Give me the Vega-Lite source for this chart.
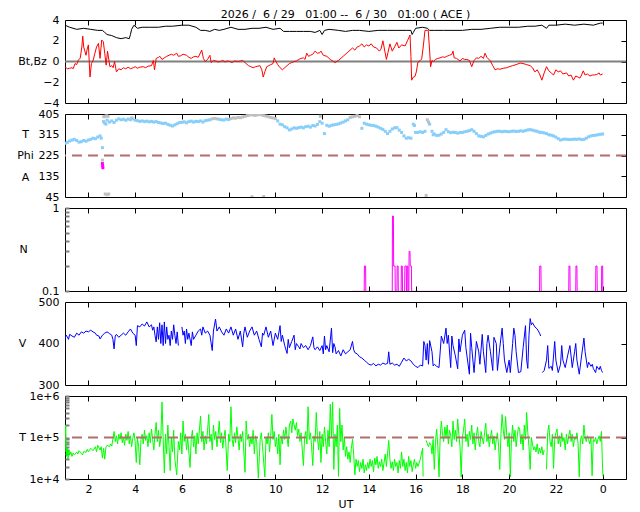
{
"$schema": "https://vega.github.io/schema/vega-lite/v6.json",
"background": "white",
"padding": {"left": 16, "top": 8, "right": 4, "bottom": 2},
"spacing": 11,
"bounds": "flush",
"config": {
  "font": "DejaVu Sans",
  "view": {"stroke": "#000", "strokeWidth": 1},
  "axis": {"labelFont": "DejaVu Sans", "labelFontSize": 11, "labelColor": "#000", "titleFont": "DejaVu Sans", "titleFontSize": 11, "titleFontWeight": "normal", "titleColor": "#000", "domain": false, "grid": false, "tickColor": "#000", "tickSize": -5, "labelPadding": 11, "labelFlush": false, "labelOverlap": false}
},
"datasets": {
  "bt": [{"h":1.0,"v":3.5},{"h":1.2,"v":3.3},{"h":1.5,"v":3.1},{"h":1.8,"v":3.2},{"h":2.1,"v":3.1},{"h":2.4,"v":3.0},{"h":2.6,"v":3.0},{"h":2.7,"v":2.8},{"h":2.8,"v":2.6},{"h":3.0,"v":2.5},{"h":3.2,"v":2.3},{"h":3.4,"v":2.2},{"h":3.6,"v":2.3},{"h":3.75,"v":2.2},{"h":3.8,"v":2.6},{"h":3.85,"v":3.1},{"h":3.95,"v":3.5},{"h":4.1,"v":3.2},{"h":4.3,"v":3.3},{"h":4.6,"v":3.3},{"h":5.0,"v":3.3},{"h":5.3,"v":3.4},{"h":5.6,"v":3.4},{"h":6.0,"v":3.5},{"h":6.3,"v":3.5},{"h":6.6,"v":3.3},{"h":6.8,"v":3.0},{"h":7.0,"v":3.0},{"h":7.2,"v":2.9},{"h":7.4,"v":3.1},{"h":7.6,"v":3.0},{"h":7.8,"v":3.1},{"h":8.1,"v":3.3},{"h":8.4,"v":3.1},{"h":8.7,"v":3.1},{"h":9.0,"v":3.2},{"h":9.3,"v":3.2},{"h":9.6,"v":3.3},{"h":9.9,"v":3.1},{"h":10.2,"v":3.2},{"h":10.35,"v":2.9},{"h":10.6,"v":2.9},{"h":10.9,"v":2.9},{"h":11.2,"v":2.9},{"h":11.5,"v":2.9},{"h":11.7,"v":2.8},{"h":11.9,"v":3.0},{"h":12.0,"v":2.6},{"h":12.1,"v":3.0},{"h":12.3,"v":3.1},{"h":12.7,"v":3.0},{"h":13.0,"v":2.9},{"h":13.3,"v":3.0},{"h":13.6,"v":3.0},{"h":14.0,"v":2.9},{"h":14.4,"v":3.0},{"h":14.8,"v":3.0},{"h":15.2,"v":3.0},{"h":15.6,"v":3.0},{"h":15.8,"v":3.0},{"h":15.85,"v":2.6},{"h":15.9,"v":2.8},{"h":16.0,"v":3.2},{"h":16.3,"v":3.3},{"h":16.5,"v":3.2},{"h":16.6,"v":3.0},{"h":16.8,"v":3.0},{"h":17.2,"v":3.0},{"h":17.6,"v":3.0},{"h":18.0,"v":3.0},{"h":18.4,"v":3.1},{"h":18.8,"v":3.1},{"h":19.2,"v":3.2},{"h":19.6,"v":3.3},{"h":20.0,"v":3.3},{"h":20.4,"v":3.3},{"h":20.8,"v":3.4},{"h":21.1,"v":3.4},{"h":21.4,"v":3.5},{"h":21.6,"v":3.2},{"h":21.7,"v":3.5},{"h":22.0,"v":3.5},{"h":22.4,"v":3.6},{"h":22.8,"v":3.5},{"h":23.2,"v":3.6},{"h":23.6,"v":3.5},{"h":23.9,"v":3.7},{"h":24.0,"v":3.7}],
  "bz": [{"h":1.0,"v":-0.5},{"h":1.05,"v":-0.6},{"h":1.1,"v":-0.7},{"h":1.2,"v":-0.65},{"h":1.3,"v":-0.6},{"h":1.35,"v":-0.7},{"h":1.43,"v":-0.2},{"h":1.5,"v":-0.3},{"h":1.57,"v":0.15},{"h":1.65,"v":0.3},{"h":1.72,"v":1.4},{"h":1.76,"v":2.45},{"h":1.8,"v":1.4},{"h":1.85,"v":1.0},{"h":1.9,"v":0.6},{"h":1.95,"v":1.2},{"h":2.0,"v":1.6},{"h":2.07,"v":-1.5},{"h":2.13,"v":-0.2},{"h":2.21,"v":0.15},{"h":2.28,"v":0.8},{"h":2.35,"v":1.4},{"h":2.43,"v":1.75},{"h":2.5,"v":0.3},{"h":2.57,"v":2.07},{"h":2.64,"v":1.9},{"h":2.7,"v":0.8},{"h":2.76,"v":-0.35},{"h":2.82,"v":1.0},{"h":2.92,"v":-0.5},{"h":3.0,"v":-0.4},{"h":3.06,"v":-0.6},{"h":3.12,"v":0.0},{"h":3.2,"v":-1.0},{"h":3.3,"v":-0.7},{"h":3.4,"v":-0.8},{"h":3.5,"v":-0.6},{"h":3.6,"v":-0.7},{"h":3.7,"v":-0.55},{"h":3.8,"v":-0.7},{"h":3.92,"v":-0.6},{"h":4.0,"v":-0.5},{"h":4.1,"v":-0.65},{"h":4.2,"v":-0.55},{"h":4.35,"v":-0.5},{"h":4.45,"v":-0.6},{"h":4.55,"v":-0.45},{"h":4.7,"v":-0.4},{"h":4.78,"v":0.1},{"h":4.83,"v":-0.8},{"h":4.9,"v":0.3},{"h":5.0,"v":0.4},{"h":5.06,"v":0.5},{"h":5.15,"v":0.2},{"h":5.25,"v":0.35},{"h":5.35,"v":0.5},{"h":5.45,"v":0.6},{"h":5.55,"v":0.7},{"h":5.65,"v":0.6},{"h":5.78,"v":0.8},{"h":5.85,"v":0.5},{"h":5.95,"v":0.55},{"h":6.05,"v":0.7},{"h":6.2,"v":0.6},{"h":6.3,"v":0.4},{"h":6.4,"v":0.3},{"h":6.5,"v":0.45},{"h":6.6,"v":0.5},{"h":6.7,"v":0.4},{"h":6.85,"v":1.1},{"h":6.92,"v":0.3},{"h":7.0,"v":0.0},{"h":7.1,"v":0.2},{"h":7.2,"v":0.6},{"h":7.25,"v":-0.1},{"h":7.35,"v":0.1},{"h":7.45,"v":0.05},{"h":7.55,"v":-0.05},{"h":7.66,"v":0.0},{"h":7.75,"v":0.1},{"h":7.85,"v":-0.05},{"h":7.95,"v":0.05},{"h":8.05,"v":0.0},{"h":8.15,"v":-0.1},{"h":8.25,"v":0.05},{"h":8.4,"v":0.0},{"h":8.5,"v":0.05},{"h":8.6,"v":0.1},{"h":8.7,"v":-0.1},{"h":8.85,"v":-0.4},{"h":8.95,"v":-0.5},{"h":9.05,"v":-0.6},{"h":9.15,"v":-0.5},{"h":9.25,"v":-0.45},{"h":9.34,"v":-0.4},{"h":9.42,"v":-0.8},{"h":9.48,"v":-1.5},{"h":9.55,"v":-1.0},{"h":9.63,"v":-0.5},{"h":9.72,"v":-0.4},{"h":9.8,"v":-0.3},{"h":9.9,"v":-0.2},{"h":9.95,"v":0.35},{"h":10.0,"v":0.1},{"h":10.1,"v":-0.3},{"h":10.2,"v":-0.6},{"h":10.3,"v":-0.8},{"h":10.4,"v":-0.6},{"h":10.5,"v":-0.4},{"h":10.6,"v":-0.2},{"h":10.7,"v":-0.1},{"h":10.8,"v":0.0},{"h":10.9,"v":0.05},{"h":11.0,"v":0.2},{"h":11.1,"v":0.3},{"h":11.2,"v":0.35},{"h":11.27,"v":0.2},{"h":11.34,"v":0.8},{"h":11.42,"v":0.5},{"h":11.5,"v":0.6},{"h":11.6,"v":0.7},{"h":11.7,"v":1.0},{"h":11.8,"v":0.8},{"h":11.9,"v":0.85},{"h":11.95,"v":1.0},{"h":12.05,"v":0.6},{"h":12.2,"v":0.5},{"h":12.35,"v":0.2},{"h":12.48,"v":0.0},{"h":12.55,"v":-0.1},{"h":12.7,"v":0.1},{"h":12.9,"v":0.5},{"h":13.1,"v":0.9},{"h":13.3,"v":1.3},{"h":13.4,"v":1.1},{"h":13.5,"v":1.4},{"h":13.6,"v":1.5},{"h":13.7,"v":1.7},{"h":13.8,"v":1.4},{"h":13.9,"v":1.6},{"h":14.0,"v":1.5},{"h":14.1,"v":1.7},{"h":14.2,"v":1.4},{"h":14.33,"v":1.3},{"h":14.45,"v":1.0},{"h":14.52,"v":1.2},{"h":14.6,"v":2.0},{"h":14.65,"v":1.4},{"h":14.75,"v":0.2},{"h":14.82,"v":0.9},{"h":14.9,"v":1.7},{"h":15.0,"v":1.0},{"h":15.1,"v":1.4},{"h":15.2,"v":1.85},{"h":15.28,"v":1.3},{"h":15.4,"v":1.6},{"h":15.55,"v":1.5},{"h":15.65,"v":2.0},{"h":15.76,"v":2.55},{"h":15.8,"v":0.5},{"h":15.83,"v":-1.8},{"h":15.9,"v":-1.5},{"h":15.97,"v":-1.45},{"h":16.03,"v":-1.0},{"h":16.1,"v":-0.05},{"h":16.2,"v":0.1},{"h":16.26,"v":0.25},{"h":16.33,"v":1.5},{"h":16.4,"v":3.0},{"h":16.5,"v":3.0},{"h":16.54,"v":3.0},{"h":16.6,"v":1.0},{"h":16.64,"v":-0.5},{"h":16.7,"v":0.1},{"h":16.76,"v":0.0},{"h":16.85,"v":0.2},{"h":16.95,"v":0.3},{"h":17.04,"v":0.35},{"h":17.15,"v":0.45},{"h":17.25,"v":0.4},{"h":17.33,"v":0.5},{"h":17.45,"v":0.6},{"h":17.55,"v":0.7},{"h":17.6,"v":1.0},{"h":17.65,"v":0.35},{"h":17.75,"v":0.3},{"h":17.9,"v":0.05},{"h":18.0,"v":0.3},{"h":18.1,"v":0.2},{"h":18.19,"v":0.2},{"h":18.3,"v":0.1},{"h":18.4,"v":-0.5},{"h":18.5,"v":0.1},{"h":18.6,"v":0.35},{"h":18.7,"v":0.3},{"h":18.8,"v":0.5},{"h":18.9,"v":0.3},{"h":18.97,"v":0.8},{"h":19.05,"v":0.4},{"h":19.2,"v":0.05},{"h":19.3,"v":-0.4},{"h":19.4,"v":-0.8},{"h":19.5,"v":-0.7},{"h":19.6,"v":-0.75},{"h":19.75,"v":-0.65},{"h":19.9,"v":-0.6},{"h":20.0,"v":-0.5},{"h":20.15,"v":-0.4},{"h":20.3,"v":-0.3},{"h":20.47,"v":-0.15},{"h":20.6,"v":-0.2},{"h":20.75,"v":-0.3},{"h":20.9,"v":-0.4},{"h":21.0,"v":-0.6},{"h":21.1,"v":-1.0},{"h":21.2,"v":-0.8},{"h":21.3,"v":-1.2},{"h":21.4,"v":-1.8},{"h":21.5,"v":-1.1},{"h":21.6,"v":-0.5},{"h":21.7,"v":-0.9},{"h":21.8,"v":-1.1},{"h":21.9,"v":-1.3},{"h":22.0,"v":-0.8},{"h":22.1,"v":-1.0},{"h":22.2,"v":-0.9},{"h":22.3,"v":-1.2},{"h":22.46,"v":-1.1},{"h":22.55,"v":-1.4},{"h":22.65,"v":-1.3},{"h":22.75,"v":-1.8},{"h":22.85,"v":-1.4},{"h":22.95,"v":-1.5},{"h":23.03,"v":-1.6},{"h":23.1,"v":-1.3},{"h":23.17,"v":-0.9},{"h":23.25,"v":-1.3},{"h":23.35,"v":-1.2},{"h":23.46,"v":-1.4},{"h":23.55,"v":-1.3},{"h":23.65,"v":-1.3},{"h":23.75,"v":-1.25},{"h":23.85,"v":-1.1},{"h":23.9,"v":-1.3},{"h":24.0,"v":-1.2}],
  "phi": [{"h":1.0,"v":278,"c":"b"},{"h":1.1,"v":282,"c":"b"},{"h":1.2,"v":288,"c":"b"},{"h":1.3,"v":292,"c":"b"},{"h":1.4,"v":295,"c":"b"},{"h":1.5,"v":290,"c":"b"},{"h":1.6,"v":283,"c":"b"},{"h":1.7,"v":285,"c":"b"},{"h":1.8,"v":290,"c":"b"},{"h":1.9,"v":287,"c":"b"},{"h":2.0,"v":292,"c":"b"},{"h":2.1,"v":295,"c":"b"},{"h":2.2,"v":300,"c":"b"},{"h":2.3,"v":298,"c":"b"},{"h":2.4,"v":305,"c":"b"},{"h":2.5,"v":310,"c":"b"},{"h":2.55,"v":300,"c":"b"},{"h":2.6,"v":259,"c":"b"},{"h":2.65,"v":372,"c":"b"},{"h":2.7,"v":365,"c":"b"},{"h":2.75,"v":361,"c":"b"},{"h":2.8,"v":378,"c":"b"},{"h":2.9,"v":370,"c":"b"},{"h":3.0,"v":375,"c":"b"},{"h":3.1,"v":368,"c":"b"},{"h":3.2,"v":378,"c":"b"},{"h":3.3,"v":384,"c":"b"},{"h":3.4,"v":380,"c":"b"},{"h":3.5,"v":382,"c":"b"},{"h":3.6,"v":378,"c":"b"},{"h":3.7,"v":383,"c":"b"},{"h":3.8,"v":380,"c":"b"},{"h":3.9,"v":384,"c":"b"},{"h":4.0,"v":378,"c":"b"},{"h":4.1,"v":376,"c":"b"},{"h":4.2,"v":373,"c":"b"},{"h":4.3,"v":375,"c":"b"},{"h":4.4,"v":372,"c":"b"},{"h":4.5,"v":374,"c":"b"},{"h":4.6,"v":371,"c":"b"},{"h":4.7,"v":373,"c":"b"},{"h":4.8,"v":370,"c":"b"},{"h":4.9,"v":372,"c":"b"},{"h":5.0,"v":368,"c":"b"},{"h":5.1,"v":366,"c":"b"},{"h":5.2,"v":364,"c":"b"},{"h":5.3,"v":365,"c":"b"},{"h":5.4,"v":360,"c":"b"},{"h":5.5,"v":356,"c":"b"},{"h":5.6,"v":353,"c":"b"},{"h":5.7,"v":358,"c":"b"},{"h":5.8,"v":363,"c":"b"},{"h":5.9,"v":368,"c":"b"},{"h":6.0,"v":369,"c":"b"},{"h":6.1,"v":371,"c":"b"},{"h":6.2,"v":367,"c":"b"},{"h":6.3,"v":372,"c":"b"},{"h":6.4,"v":374,"c":"b"},{"h":6.5,"v":370,"c":"b"},{"h":6.6,"v":373,"c":"b"},{"h":6.7,"v":372,"c":"b"},{"h":6.8,"v":375,"c":"b"},{"h":6.9,"v":370,"c":"b"},{"h":7.0,"v":376,"c":"b"},{"h":7.1,"v":378,"c":"b"},{"h":7.2,"v":380,"c":"b"},{"h":7.3,"v":384,"c":"g"},{"h":7.4,"v":386,"c":"g"},{"h":7.5,"v":384,"c":"g"},{"h":7.6,"v":382,"c":"b"},{"h":7.7,"v":380,"c":"b"},{"h":7.8,"v":379,"c":"b"},{"h":7.9,"v":383,"c":"b"},{"h":8.0,"v":381,"c":"b"},{"h":8.1,"v":385,"c":"g"},{"h":8.2,"v":388,"c":"g"},{"h":8.3,"v":387,"c":"g"},{"h":8.4,"v":390,"c":"g"},{"h":8.5,"v":389,"c":"g"},{"h":8.6,"v":392,"c":"g"},{"h":8.7,"v":395,"c":"g"},{"h":8.8,"v":398,"c":"g"},{"h":8.9,"v":400,"c":"g"},{"h":9.0,"v":402,"c":"g"},{"h":9.1,"v":399,"c":"g"},{"h":9.2,"v":400,"c":"g"},{"h":9.3,"v":403,"c":"g"},{"h":9.4,"v":401,"c":"g"},{"h":9.5,"v":398,"c":"g"},{"h":9.6,"v":396,"c":"g"},{"h":9.7,"v":393,"c":"g"},{"h":9.8,"v":390,"c":"g"},{"h":9.9,"v":388,"c":"g"},{"h":10.0,"v":385,"c":"g"},{"h":10.1,"v":375,"c":"b"},{"h":10.2,"v":361,"c":"b"},{"h":10.3,"v":358,"c":"b"},{"h":10.4,"v":350,"c":"b"},{"h":10.5,"v":345,"c":"b"},{"h":10.6,"v":336,"c":"b"},{"h":10.7,"v":340,"c":"b"},{"h":10.8,"v":345,"c":"b"},{"h":10.9,"v":343,"c":"b"},{"h":11.0,"v":346,"c":"b"},{"h":11.1,"v":348,"c":"b"},{"h":11.2,"v":345,"c":"b"},{"h":11.3,"v":350,"c":"b"},{"h":11.4,"v":352,"c":"b"},{"h":11.5,"v":348,"c":"b"},{"h":11.6,"v":355,"c":"b"},{"h":11.7,"v":353,"c":"b"},{"h":11.8,"v":360,"c":"b"},{"h":11.9,"v":372,"c":"b"},{"h":11.92,"v":395,"c":"g"},{"h":12.0,"v":365,"c":"b"},{"h":12.1,"v":320,"c":"b"},{"h":12.2,"v":356,"c":"b"},{"h":12.3,"v":352,"c":"b"},{"h":12.4,"v":356,"c":"b"},{"h":12.5,"v":358,"c":"b"},{"h":12.6,"v":360,"c":"b"},{"h":12.7,"v":362,"c":"b"},{"h":12.8,"v":366,"c":"b"},{"h":12.9,"v":370,"c":"b"},{"h":13.0,"v":375,"c":"b"},{"h":13.1,"v":380,"c":"b"},{"h":13.2,"v":390,"c":"g"},{"h":13.3,"v":393,"c":"g"},{"h":13.4,"v":395,"c":"g"},{"h":13.5,"v":398,"c":"g"},{"h":13.6,"v":393,"c":"g"},{"h":13.7,"v":343,"c":"b"},{"h":13.8,"v":365,"c":"b"},{"h":13.9,"v":361,"c":"b"},{"h":14.0,"v":358,"c":"b"},{"h":14.1,"v":356,"c":"b"},{"h":14.2,"v":355,"c":"b"},{"h":14.3,"v":352,"c":"b"},{"h":14.4,"v":348,"c":"b"},{"h":14.5,"v":343,"c":"b"},{"h":14.6,"v":338,"c":"b"},{"h":14.7,"v":330,"c":"b"},{"h":14.8,"v":320,"c":"b"},{"h":14.9,"v":330,"c":"b"},{"h":15.0,"v":340,"c":"b"},{"h":15.1,"v":345,"c":"b"},{"h":15.2,"v":346,"c":"b"},{"h":15.3,"v":335,"c":"b"},{"h":15.4,"v":325,"c":"b"},{"h":15.5,"v":310,"c":"b"},{"h":15.6,"v":300,"c":"b"},{"h":15.7,"v":302,"c":"b"},{"h":15.8,"v":300,"c":"b"},{"h":15.9,"v":361,"c":"b"},{"h":15.95,"v":355,"c":"b"},{"h":16.0,"v":325,"c":"b"},{"h":16.1,"v":325,"c":"b"},{"h":16.2,"v":328,"c":"b"},{"h":16.3,"v":325,"c":"b"},{"h":16.4,"v":330,"c":"b"},{"h":16.5,"v":380,"c":"g"},{"h":16.55,"v":370,"c":"g"},{"h":16.6,"v":361,"c":"b"},{"h":16.7,"v":330,"c":"b"},{"h":16.75,"v":315,"c":"b"},{"h":16.8,"v":318,"c":"b"},{"h":16.9,"v":312,"c":"b"},{"h":17.0,"v":313,"c":"b"},{"h":17.1,"v":318,"c":"b"},{"h":17.2,"v":325,"c":"b"},{"h":17.3,"v":337,"c":"b"},{"h":17.4,"v":328,"c":"b"},{"h":17.5,"v":324,"c":"b"},{"h":17.6,"v":326,"c":"b"},{"h":17.7,"v":325,"c":"b"},{"h":17.8,"v":322,"c":"b"},{"h":17.9,"v":325,"c":"b"},{"h":18.0,"v":325,"c":"b"},{"h":18.1,"v":328,"c":"b"},{"h":18.2,"v":330,"c":"b"},{"h":18.3,"v":333,"c":"b"},{"h":18.4,"v":337,"c":"b"},{"h":18.5,"v":330,"c":"b"},{"h":18.6,"v":320,"c":"b"},{"h":18.7,"v":310,"c":"b"},{"h":18.8,"v":308,"c":"b"},{"h":18.9,"v":306,"c":"b"},{"h":19.0,"v":312,"c":"b"},{"h":19.1,"v":318,"c":"b"},{"h":19.2,"v":322,"c":"b"},{"h":19.3,"v":326,"c":"b"},{"h":19.4,"v":328,"c":"b"},{"h":19.5,"v":330,"c":"b"},{"h":19.6,"v":330,"c":"b"},{"h":19.7,"v":328,"c":"b"},{"h":19.8,"v":330,"c":"b"},{"h":19.9,"v":329,"c":"b"},{"h":20.0,"v":328,"c":"b"},{"h":20.1,"v":330,"c":"b"},{"h":20.2,"v":331,"c":"b"},{"h":20.3,"v":329,"c":"b"},{"h":20.4,"v":330,"c":"b"},{"h":20.5,"v":332,"c":"b"},{"h":20.6,"v":330,"c":"b"},{"h":20.7,"v":333,"c":"b"},{"h":20.8,"v":336,"c":"b"},{"h":20.9,"v":337,"c":"b"},{"h":21.0,"v":335,"c":"b"},{"h":21.1,"v":332,"c":"b"},{"h":21.2,"v":330,"c":"b"},{"h":21.3,"v":326,"c":"b"},{"h":21.4,"v":325,"c":"b"},{"h":21.5,"v":323,"c":"b"},{"h":21.6,"v":320,"c":"b"},{"h":21.7,"v":315,"c":"b"},{"h":21.8,"v":313,"c":"b"},{"h":21.9,"v":310,"c":"b"},{"h":22.0,"v":305,"c":"b"},{"h":22.1,"v":298,"c":"b"},{"h":22.2,"v":292,"c":"b"},{"h":22.3,"v":295,"c":"b"},{"h":22.4,"v":296,"c":"b"},{"h":22.5,"v":295,"c":"b"},{"h":22.6,"v":294,"c":"b"},{"h":22.7,"v":295,"c":"b"},{"h":22.8,"v":296,"c":"b"},{"h":22.9,"v":295,"c":"b"},{"h":23.0,"v":297,"c":"b"},{"h":23.1,"v":294,"c":"b"},{"h":23.2,"v":295,"c":"b"},{"h":23.3,"v":300,"c":"b"},{"h":23.4,"v":306,"c":"b"},{"h":23.5,"v":310,"c":"b"},{"h":23.6,"v":312,"c":"b"},{"h":23.7,"v":313,"c":"b"},{"h":23.8,"v":315,"c":"b"},{"h":23.9,"v":317,"c":"b"},{"h":24.0,"v":318,"c":"b"},{"h":2.66,"v":393,"c":"g"},{"h":2.72,"v":395,"c":"g"},{"h":2.78,"v":397,"c":"g"},{"h":2.84,"v":395,"c":"g"},{"h":3.85,"v":388,"c":"g"},{"h":2.72,"v":58,"c":"g"},{"h":2.8,"v":55,"c":"g"},{"h":2.87,"v":58,"c":"g"},{"h":9.0,"v":46,"c":"g"},{"h":9.5,"v":47,"c":"g"},{"h":16.45,"v":52,"c":"g"},{"h":2.6,"v":205,"c":"g"},{"h":2.6,"v":190,"c":"m"},{"h":2.61,"v":180,"c":"m"},{"h":2.62,"v":172,"c":"m"}],
  "n": [{"h":13.3,"v":0.099},{"h":13.8,"v":0.099},{"h":13.81,"v":0.2},{"h":13.86,"v":0.2},{"h":13.87,"v":0.099},{"h":15.0,"v":0.099},{"h":15.01,"v":0.8},{"h":15.05,"v":0.8},{"h":15.06,"v":0.2},{"h":15.12,"v":0.2},{"h":15.13,"v":0.099},{"h":15.2,"v":0.099},{"h":15.21,"v":0.2},{"h":15.25,"v":0.2},{"h":15.26,"v":0.099},{"h":15.38,"v":0.099},{"h":15.39,"v":0.2},{"h":15.43,"v":0.2},{"h":15.44,"v":0.099},{"h":15.53,"v":0.099},{"h":15.54,"v":0.2},{"h":15.6,"v":0.2},{"h":15.61,"v":0.099},{"h":15.63,"v":0.099},{"h":15.64,"v":0.2},{"h":15.67,"v":0.2},{"h":15.68,"v":0.099},{"h":15.71,"v":0.099},{"h":15.72,"v":0.3},{"h":15.76,"v":0.3},{"h":15.77,"v":0.2},{"h":15.82,"v":0.2},{"h":15.83,"v":0.099},{"h":21.3,"v":0.099},{"h":21.31,"v":0.2},{"h":21.36,"v":0.2},{"h":21.37,"v":0.099},{"h":22.55,"v":0.099},{"h":22.56,"v":0.2},{"h":22.6,"v":0.2},{"h":22.61,"v":0.099},{"h":22.85,"v":0.099},{"h":22.86,"v":0.2},{"h":22.9,"v":0.2},{"h":22.91,"v":0.099},{"h":23.7,"v":0.099},{"h":23.71,"v":0.2},{"h":23.76,"v":0.2},{"h":23.77,"v":0.099},{"h":23.95,"v":0.099},{"h":23.96,"v":0.2},{"h":24.0,"v":0.2},{"h":24.01,"v":0.099}],
  "vel": [{"h":1.0,"v":412,"s":1},{"h":1.05,"v":420,"s":1},{"h":1.1,"v":416,"s":1},{"h":1.15,"v":410,"s":1},{"h":1.2,"v":422,"s":1},{"h":1.3,"v":418,"s":1},{"h":1.4,"v":415,"s":1},{"h":1.5,"v":425,"s":1},{"h":1.6,"v":420,"s":1},{"h":1.7,"v":428,"s":1},{"h":1.8,"v":425,"s":1},{"h":1.9,"v":430,"s":1},{"h":2.0,"v":428,"s":1},{"h":2.1,"v":432,"s":1},{"h":2.2,"v":428,"s":1},{"h":2.3,"v":425,"s":1},{"h":2.35,"v":420,"s":1},{"h":2.45,"v":418,"s":1},{"h":2.5,"v":411,"s":1},{"h":2.6,"v":420,"s":1},{"h":2.7,"v":425,"s":1},{"h":2.8,"v":428,"s":1},{"h":2.9,"v":424,"s":1},{"h":3.0,"v":420,"s":1},{"h":3.05,"v":410,"s":1},{"h":3.1,"v":387,"s":1},{"h":3.15,"v":418,"s":1},{"h":3.2,"v":422,"s":1},{"h":3.3,"v":415,"s":1},{"h":3.4,"v":420,"s":1},{"h":3.5,"v":425,"s":1},{"h":3.6,"v":420,"s":1},{"h":3.7,"v":428,"s":1},{"h":3.8,"v":435,"s":1},{"h":3.9,"v":425,"s":1},{"h":4.0,"v":420,"s":1},{"h":4.05,"v":395,"s":1},{"h":4.1,"v":443,"s":1},{"h":4.2,"v":440,"s":1},{"h":4.3,"v":447,"s":1},{"h":4.4,"v":442,"s":1},{"h":4.5,"v":452,"s":1},{"h":4.6,"v":440,"s":1},{"h":4.7,"v":445,"s":1},{"h":4.75,"v":432,"s":1},{"h":4.8,"v":440,"s":1},{"h":4.85,"v":420,"s":1},{"h":4.9,"v":404,"s":1},{"h":4.95,"v":440,"s":1},{"h":5.0,"v":410,"s":1},{"h":5.05,"v":450,"s":1},{"h":5.1,"v":400,"s":1},{"h":5.15,"v":445,"s":1},{"h":5.2,"v":395,"s":1},{"h":5.25,"v":452,"s":1},{"h":5.3,"v":400,"s":1},{"h":5.35,"v":440,"s":1},{"h":5.4,"v":410,"s":1},{"h":5.45,"v":420,"s":1},{"h":5.5,"v":395,"s":1},{"h":5.55,"v":430,"s":1},{"h":5.6,"v":410,"s":1},{"h":5.65,"v":445,"s":1},{"h":5.7,"v":420,"s":1},{"h":5.75,"v":400,"s":1},{"h":5.8,"v":428,"s":1},{"h":5.85,"v":395,"s":1},{"h":6.0,"v":440,"s":2},{"h":6.05,"v":420,"s":2},{"h":6.1,"v":430,"s":2},{"h":6.15,"v":400,"s":2},{"h":6.2,"v":435,"s":2},{"h":6.25,"v":410,"s":2},{"h":6.3,"v":425,"s":2},{"h":6.4,"v":395,"s":2},{"h":6.45,"v":428,"s":2},{"h":6.5,"v":410,"s":2},{"h":6.6,"v":420,"s":2},{"h":6.7,"v":430,"s":2},{"h":6.8,"v":435,"s":2},{"h":6.85,"v":420,"s":2},{"h":6.9,"v":440,"s":2},{"h":7.0,"v":425,"s":2},{"h":7.1,"v":430,"s":2},{"h":7.2,"v":420,"s":2},{"h":7.3,"v":383,"s":2},{"h":7.35,"v":430,"s":2},{"h":7.44,"v":459,"s":2},{"h":7.5,"v":430,"s":2},{"h":7.6,"v":440,"s":2},{"h":7.7,"v":428,"s":2},{"h":7.8,"v":420,"s":2},{"h":7.9,"v":435,"s":2},{"h":8.0,"v":425,"s":2},{"h":8.1,"v":440,"s":2},{"h":8.2,"v":420,"s":2},{"h":8.3,"v":435,"s":2},{"h":8.4,"v":410,"s":2},{"h":8.5,"v":430,"s":2},{"h":8.6,"v":392,"s":2},{"h":8.65,"v":425,"s":2},{"h":8.7,"v":440,"s":2},{"h":8.8,"v":415,"s":2},{"h":8.9,"v":430,"s":2},{"h":9.0,"v":440,"s":2},{"h":9.1,"v":420,"s":2},{"h":9.2,"v":430,"s":2},{"h":9.3,"v":410,"s":2},{"h":9.4,"v":392,"s":2},{"h":9.45,"v":425,"s":2},{"h":9.5,"v":420,"s":2},{"h":9.6,"v":440,"s":2},{"h":9.7,"v":415,"s":2},{"h":9.8,"v":430,"s":2},{"h":9.9,"v":395,"s":2},{"h":10.0,"v":425,"s":2},{"h":10.1,"v":410,"s":2},{"h":10.2,"v":443,"s":2},{"h":10.25,"v":405,"s":2},{"h":10.3,"v":420,"s":2},{"h":10.4,"v":395,"s":2},{"h":10.5,"v":376,"s":2},{"h":10.55,"v":410,"s":2},{"h":10.6,"v":390,"s":2},{"h":10.7,"v":405,"s":2},{"h":10.8,"v":420,"s":2},{"h":10.85,"v":385,"s":2},{"h":10.9,"v":400,"s":2},{"h":11.0,"v":392,"s":2},{"h":11.05,"v":387,"s":2},{"h":11.1,"v":400,"s":2},{"h":11.2,"v":390,"s":2},{"h":11.3,"v":395,"s":2},{"h":11.4,"v":385,"s":2},{"h":11.5,"v":395,"s":2},{"h":11.6,"v":416,"s":2},{"h":11.65,"v":390,"s":2},{"h":11.7,"v":385,"s":2},{"h":11.8,"v":392,"s":2},{"h":11.9,"v":383,"s":2},{"h":12.0,"v":395,"s":2},{"h":12.05,"v":375,"s":2},{"h":12.1,"v":418,"s":2},{"h":12.15,"v":385,"s":2},{"h":12.2,"v":395,"s":2},{"h":12.3,"v":380,"s":2},{"h":12.4,"v":437,"s":2},{"h":12.45,"v":378,"s":2},{"h":12.5,"v":400,"s":2},{"h":12.55,"v":392,"s":2},{"h":12.6,"v":375,"s":2},{"h":12.7,"v":383,"s":2},{"h":12.8,"v":370,"s":2},{"h":12.9,"v":385,"s":2},{"h":13.0,"v":375,"s":2},{"h":13.1,"v":380,"s":2},{"h":13.2,"v":385,"s":2},{"h":13.3,"v":405,"s":2},{"h":13.35,"v":385,"s":2},{"h":13.4,"v":378,"s":2},{"h":13.5,"v":375,"s":2},{"h":13.6,"v":368,"s":2},{"h":13.7,"v":365,"s":2},{"h":13.8,"v":360,"s":2},{"h":13.9,"v":355,"s":2},{"h":14.0,"v":350,"s":2},{"h":14.1,"v":348,"s":2},{"h":14.2,"v":352,"s":2},{"h":14.3,"v":346,"s":2},{"h":14.4,"v":350,"s":2},{"h":14.5,"v":348,"s":2},{"h":14.6,"v":353,"s":2},{"h":14.7,"v":350,"s":2},{"h":14.8,"v":352,"s":2},{"h":14.85,"v":380,"s":2},{"h":14.9,"v":350,"s":2},{"h":15.0,"v":353,"s":2},{"h":15.1,"v":348,"s":2},{"h":15.2,"v":350,"s":2},{"h":15.3,"v":345,"s":2},{"h":15.4,"v":355,"s":2},{"h":15.5,"v":365,"s":2},{"h":15.6,"v":358,"s":2},{"h":15.7,"v":362,"s":2},{"h":15.8,"v":358,"s":2},{"h":15.9,"v":350,"s":2},{"h":16.0,"v":345,"s":2},{"h":16.1,"v":342,"s":2},{"h":16.2,"v":348,"s":2},{"h":16.3,"v":346,"s":2},{"h":16.35,"v":405,"s":2},{"h":16.4,"v":395,"s":2},{"h":16.45,"v":360,"s":2},{"h":16.5,"v":400,"s":2},{"h":16.55,"v":350,"s":2},{"h":16.6,"v":407,"s":2},{"h":16.7,"v":380,"s":2},{"h":16.75,"v":346,"s":2},{"h":16.8,"v":350,"s":2},{"h":16.9,"v":345,"s":2},{"h":17.0,"v":342,"s":2},{"h":17.1,"v":418,"s":2},{"h":17.2,"v":400,"s":2},{"h":17.3,"v":437,"s":2},{"h":17.35,"v":400,"s":2},{"h":17.4,"v":420,"s":2},{"h":17.5,"v":342,"s":2},{"h":17.55,"v":418,"s":2},{"h":17.6,"v":395,"s":2},{"h":17.7,"v":370,"s":2},{"h":17.8,"v":339,"s":2},{"h":17.85,"v":411,"s":2},{"h":17.9,"v":380,"s":2},{"h":18.0,"v":420,"s":2},{"h":18.1,"v":432,"s":2},{"h":18.15,"v":390,"s":2},{"h":18.3,"v":326,"s":2},{"h":18.35,"v":425,"s":2},{"h":18.4,"v":390,"s":2},{"h":18.5,"v":330,"s":2},{"h":18.6,"v":405,"s":2},{"h":18.7,"v":380,"s":2},{"h":18.75,"v":350,"s":2},{"h":18.85,"v":422,"s":2},{"h":18.9,"v":380,"s":2},{"h":19.0,"v":330,"s":2},{"h":19.05,"v":400,"s":2},{"h":19.1,"v":420,"s":2},{"h":19.2,"v":380,"s":2},{"h":19.3,"v":335,"s":2},{"h":19.35,"v":415,"s":2},{"h":19.45,"v":400,"s":2},{"h":19.5,"v":335,"s":2},{"h":19.6,"v":390,"s":2},{"h":19.7,"v":437,"s":2},{"h":19.75,"v":400,"s":2},{"h":19.8,"v":360,"s":2},{"h":19.9,"v":330,"s":2},{"h":20.0,"v":360,"s":2},{"h":20.05,"v":330,"s":2},{"h":20.15,"v":400,"s":2},{"h":20.2,"v":437,"s":2},{"h":20.25,"v":420,"s":2},{"h":20.3,"v":380,"s":2},{"h":20.4,"v":330,"s":2},{"h":20.5,"v":332,"s":2},{"h":20.6,"v":390,"s":2},{"h":20.7,"v":443,"s":2},{"h":20.75,"v":360,"s":2},{"h":20.8,"v":340,"s":2},{"h":20.85,"v":420,"s":2},{"h":20.9,"v":460,"s":2},{"h":20.95,"v":445,"s":2},{"h":21.0,"v":450,"s":2},{"h":21.1,"v":440,"s":2},{"h":21.2,"v":435,"s":2},{"h":21.3,"v":425,"s":2},{"h":21.35,"v":418,"s":2},{"h":21.42,"v":330,"s":3},{"h":21.5,"v":335,"s":3},{"h":21.6,"v":360,"s":3},{"h":21.65,"v":395,"s":3},{"h":21.7,"v":340,"s":3},{"h":21.8,"v":345,"s":3},{"h":21.85,"v":335,"s":3},{"h":21.95,"v":405,"s":3},{"h":22.0,"v":360,"s":3},{"h":22.1,"v":330,"s":3},{"h":22.2,"v":350,"s":3},{"h":22.25,"v":395,"s":3},{"h":22.3,"v":360,"s":3},{"h":22.4,"v":342,"s":3},{"h":22.5,"v":370,"s":3},{"h":22.6,"v":395,"s":3},{"h":22.65,"v":370,"s":3},{"h":22.7,"v":342,"s":3},{"h":22.8,"v":380,"s":3},{"h":22.85,"v":400,"s":3},{"h":22.9,"v":360,"s":3},{"h":23.0,"v":326,"s":3},{"h":23.1,"v":370,"s":3},{"h":23.2,"v":413,"s":3},{"h":23.25,"v":380,"s":3},{"h":23.35,"v":342,"s":3},{"h":23.4,"v":355,"s":3},{"h":23.5,"v":345,"s":3},{"h":23.56,"v":350,"s":3},{"h":23.6,"v":340,"s":3},{"h":23.7,"v":330,"s":3},{"h":23.75,"v":345,"s":3},{"h":23.85,"v":337,"s":3},{"h":23.9,"v":345,"s":3},{"h":23.95,"v":335,"s":3},{"h":24.0,"v":330,"s":3}],
  "temp": [{"h":1.0,"v":45000,"s":1},{"h":1.03,"v":200000,"s":1},{"h":1.06,"v":35000,"s":1},{"h":1.1,"v":55000,"s":1},{"h":1.13,"v":30000,"s":1},{"h":1.17,"v":50000,"s":1},{"h":1.2,"v":38000,"s":1},{"h":1.25,"v":45000,"s":1},{"h":1.3,"v":35000,"s":1},{"h":1.35,"v":42000,"s":1},{"h":1.4,"v":38000,"s":1},{"h":1.5,"v":45000,"s":1},{"h":1.55,"v":40000,"s":1},{"h":1.6,"v":48000,"s":1},{"h":1.7,"v":42000,"s":1},{"h":1.75,"v":38000,"s":1},{"h":1.8,"v":46000,"s":1},{"h":1.9,"v":44000,"s":1},{"h":1.95,"v":52000,"s":1},{"h":2.0,"v":45000,"s":1},{"h":2.1,"v":55000,"s":1},{"h":2.2,"v":48000,"s":1},{"h":2.3,"v":60000,"s":1},{"h":2.35,"v":45000,"s":1},{"h":2.4,"v":65000,"s":1},{"h":2.5,"v":50000,"s":1},{"h":2.55,"v":60000,"s":1},{"h":2.6,"v":32000,"s":1},{"h":2.65,"v":55000,"s":1},{"h":2.7,"v":30000,"s":1},{"h":2.75,"v":58000,"s":1},{"h":2.8,"v":65000,"s":1},{"h":2.9,"v":60000,"s":1},{"h":2.95,"v":70000,"s":1},{"h":3.0,"v":62000,"s":1},{"h":3.1,"v":140000,"s":1},{"h":3.15,"v":80000,"s":1},{"h":3.2,"v":110000,"s":1},{"h":3.25,"v":70000,"s":1},{"h":3.3,"v":120000,"s":1},{"h":3.35,"v":90000,"s":1},{"h":3.4,"v":130000,"s":1},{"h":3.45,"v":75000,"s":1},{"h":3.5,"v":100000,"s":1},{"h":3.55,"v":65000,"s":1},{"h":3.6,"v":120000,"s":1},{"h":3.65,"v":85000,"s":1},{"h":3.7,"v":140000,"s":1},{"h":3.75,"v":70000,"s":1},{"h":3.8,"v":110000,"s":1},{"h":3.85,"v":60000,"s":1},{"h":3.9,"v":95000,"s":1},{"h":3.95,"v":130000,"s":1},{"h":4.0,"v":80000,"s":1},{"h":4.05,"v":25000,"s":1},{"h":4.1,"v":100000,"s":1},{"h":4.15,"v":60000,"s":1},{"h":4.2,"v":22000,"s":1},{"h":4.25,"v":90000,"s":1},{"h":4.3,"v":120000,"s":1},{"h":4.35,"v":70000,"s":1},{"h":4.4,"v":150000,"s":1},{"h":4.45,"v":85000,"s":1},{"h":4.5,"v":110000,"s":1},{"h":4.55,"v":60000,"s":1},{"h":4.6,"v":130000,"s":1},{"h":4.65,"v":75000,"s":1},{"h":4.7,"v":160000,"s":1},{"h":4.75,"v":90000,"s":1},{"h":4.8,"v":50000,"s":1},{"h":4.85,"v":120000,"s":1},{"h":4.9,"v":230000,"s":1},{"h":4.95,"v":80000,"s":1},{"h":5.0,"v":150000,"s":1},{"h":5.05,"v":60000,"s":1},{"h":5.1,"v":100000,"s":1},{"h":5.15,"v":720000,"s":1},{"h":5.2,"v":90000,"s":1},{"h":5.25,"v":14000,"s":1},{"h":5.3,"v":120000,"s":1},{"h":5.35,"v":40000,"s":1},{"h":5.4,"v":200000,"s":1},{"h":5.45,"v":60000,"s":1},{"h":5.5,"v":16000,"s":1},{"h":5.55,"v":100000,"s":1},{"h":5.6,"v":45000,"s":1},{"h":5.65,"v":150000,"s":1},{"h":5.7,"v":30000,"s":1},{"h":5.78,"v":12600,"s":1},{"h":5.85,"v":80000,"s":1},{"h":5.9,"v":50000,"s":1},{"h":5.95,"v":130000,"s":1},{"h":6.0,"v":40000,"s":1},{"h":6.05,"v":250000,"s":1},{"h":6.1,"v":80000,"s":1},{"h":6.15,"v":120000,"s":1},{"h":6.2,"v":50000,"s":1},{"h":6.25,"v":100000,"s":1},{"h":6.35,"v":19000,"s":1},{"h":6.4,"v":90000,"s":1},{"h":6.45,"v":150000,"s":1},{"h":6.5,"v":60000,"s":1},{"h":6.55,"v":110000,"s":1},{"h":6.6,"v":40000,"s":1},{"h":6.65,"v":130000,"s":1},{"h":6.7,"v":70000,"s":1},{"h":6.8,"v":330000,"s":1},{"h":6.85,"v":80000,"s":1},{"h":6.9,"v":140000,"s":1},{"h":6.95,"v":50000,"s":1},{"h":7.0,"v":110000,"s":1},{"h":7.05,"v":70000,"s":1},{"h":7.1,"v":150000,"s":1},{"h":7.15,"v":360000,"s":1},{"h":7.2,"v":80000,"s":1},{"h":7.25,"v":120000,"s":1},{"h":7.3,"v":50000,"s":1},{"h":7.35,"v":200000,"s":1},{"h":7.4,"v":90000,"s":1},{"h":7.45,"v":140000,"s":1},{"h":7.5,"v":60000,"s":1},{"h":7.55,"v":110000,"s":1},{"h":7.6,"v":250000,"s":1},{"h":7.65,"v":75000,"s":1},{"h":7.7,"v":130000,"s":1},{"h":7.75,"v":55000,"s":1},{"h":7.8,"v":100000,"s":1},{"h":7.85,"v":150000,"s":1},{"h":7.94,"v":16000,"s":1},{"h":8.0,"v":120000,"s":1},{"h":8.05,"v":80000,"s":1},{"h":8.1,"v":550000,"s":1},{"h":8.15,"v":90000,"s":1},{"h":8.2,"v":60000,"s":1},{"h":8.25,"v":130000,"s":1},{"h":8.3,"v":75000,"s":1},{"h":8.35,"v":180000,"s":1},{"h":8.4,"v":100000,"s":1},{"h":8.45,"v":50000,"s":1},{"h":8.5,"v":120000,"s":1},{"h":8.55,"v":80000,"s":1},{"h":8.6,"v":140000,"s":1},{"h":8.7,"v":14500,"s":1},{"h":8.75,"v":250000,"s":1},{"h":8.8,"v":90000,"s":1},{"h":8.85,"v":120000,"s":1},{"h":8.9,"v":60000,"s":1},{"h":8.95,"v":100000,"s":1},{"h":9.0,"v":70000,"s":1},{"h":9.05,"v":150000,"s":1},{"h":9.1,"v":40000,"s":1},{"h":9.15,"v":110000,"s":1},{"h":9.2,"v":80000,"s":1},{"h":9.27,"v":10500,"s":1},{"h":9.35,"v":90000,"s":1},{"h":9.4,"v":130000,"s":1},{"h":9.45,"v":60000,"s":1},{"h":9.55,"v":11200,"s":1},{"h":9.6,"v":100000,"s":1},{"h":9.65,"v":70000,"s":1},{"h":9.7,"v":130000,"s":1},{"h":9.75,"v":45000,"s":1},{"h":9.8,"v":110000,"s":1},{"h":9.85,"v":360000,"s":1},{"h":9.9,"v":90000,"s":1},{"h":9.95,"v":140000,"s":1},{"h":10.0,"v":60000,"s":1},{"h":10.05,"v":100000,"s":1},{"h":10.1,"v":40000,"s":1},{"h":10.15,"v":120000,"s":1},{"h":10.2,"v":22000,"s":1},{"h":10.25,"v":110000,"s":1},{"h":10.3,"v":70000,"s":1},{"h":10.35,"v":150000,"s":1},{"h":10.4,"v":90000,"s":1},{"h":10.45,"v":180000,"s":1},{"h":10.5,"v":100000,"s":1},{"h":10.55,"v":60000,"s":1},{"h":10.6,"v":200000,"s":1},{"h":10.66,"v":250000,"s":1},{"h":10.7,"v":130000,"s":1},{"h":10.75,"v":280000,"s":1},{"h":10.8,"v":200000,"s":1},{"h":10.85,"v":150000,"s":1},{"h":10.9,"v":230000,"s":1},{"h":10.95,"v":110000,"s":1},{"h":11.0,"v":160000,"s":1},{"h":11.05,"v":80000,"s":1},{"h":11.1,"v":130000,"s":1},{"h":11.15,"v":50000,"s":1},{"h":11.2,"v":21000,"s":1},{"h":11.25,"v":100000,"s":1},{"h":11.3,"v":140000,"s":1},{"h":11.35,"v":70000,"s":1},{"h":11.4,"v":550000,"s":1},{"h":11.45,"v":90000,"s":1},{"h":11.5,"v":130000,"s":1},{"h":11.55,"v":60000,"s":1},{"h":11.6,"v":21000,"s":1},{"h":11.65,"v":110000,"s":1},{"h":11.7,"v":80000,"s":1},{"h":11.75,"v":400000,"s":1},{"h":11.8,"v":100000,"s":1},{"h":11.85,"v":50000,"s":1},{"h":11.9,"v":140000,"s":1},{"h":11.95,"v":25000,"s":1},{"h":12.0,"v":120000,"s":1},{"h":12.05,"v":60000,"s":1},{"h":12.1,"v":180000,"s":1},{"h":12.15,"v":80000,"s":1},{"h":12.2,"v":40000,"s":1},{"h":12.25,"v":150000,"s":1},{"h":12.3,"v":60000,"s":1},{"h":12.35,"v":630000,"s":1},{"h":12.4,"v":100000,"s":1},{"h":12.45,"v":720000,"s":1},{"h":12.5,"v":17000,"s":1},{"h":12.55,"v":120000,"s":1},{"h":12.6,"v":60000,"s":1},{"h":12.65,"v":200000,"s":1},{"h":12.7,"v":11500,"s":1},{"h":12.75,"v":500000,"s":1},{"h":12.8,"v":80000,"s":1},{"h":12.85,"v":200000,"s":1},{"h":12.9,"v":50000,"s":1},{"h":12.95,"v":100000,"s":1},{"h":13.0,"v":35000,"s":1},{"h":13.05,"v":60000,"s":1},{"h":13.1,"v":30000,"s":1},{"h":13.15,"v":45000,"s":1},{"h":13.2,"v":25000,"s":1},{"h":13.25,"v":55000,"s":1},{"h":13.3,"v":90000,"s":1},{"h":13.35,"v":40000,"s":1},{"h":13.4,"v":12600,"s":1},{"h":13.45,"v":30000,"s":1},{"h":13.5,"v":20000,"s":1},{"h":13.55,"v":28000,"s":1},{"h":13.6,"v":15000,"s":1},{"h":13.65,"v":25000,"s":1},{"h":13.7,"v":18000,"s":1},{"h":13.75,"v":30000,"s":1},{"h":13.8,"v":14000,"s":1},{"h":13.85,"v":22000,"s":1},{"h":13.9,"v":16000,"s":1},{"h":13.95,"v":25000,"s":1},{"h":14.0,"v":18000,"s":1},{"h":14.05,"v":30000,"s":1},{"h":14.1,"v":20000,"s":1},{"h":14.15,"v":28000,"s":1},{"h":14.2,"v":15000,"s":1},{"h":14.25,"v":32000,"s":1},{"h":14.3,"v":22000,"s":1},{"h":14.35,"v":35000,"s":1},{"h":14.4,"v":18000,"s":1},{"h":14.45,"v":26000,"s":1},{"h":14.5,"v":20000,"s":1},{"h":14.55,"v":30000,"s":1},{"h":14.6,"v":16000,"s":1},{"h":14.65,"v":25000,"s":1},{"h":14.7,"v":40000,"s":1},{"h":14.75,"v":20000,"s":1},{"h":14.85,"v":85000,"s":1},{"h":14.9,"v":30000,"s":1},{"h":14.95,"v":18000,"s":1},{"h":15.0,"v":26000,"s":1},{"h":15.05,"v":16000,"s":1},{"h":15.1,"v":30000,"s":1},{"h":15.15,"v":20000,"s":1},{"h":15.2,"v":25000,"s":1},{"h":15.25,"v":14000,"s":1},{"h":15.3,"v":28000,"s":1},{"h":15.35,"v":18000,"s":1},{"h":15.4,"v":45000,"s":1},{"h":15.45,"v":20000,"s":1},{"h":15.5,"v":30000,"s":1},{"h":15.55,"v":16000,"s":1},{"h":15.6,"v":25000,"s":1},{"h":15.65,"v":14000,"s":1},{"h":15.7,"v":35000,"s":1},{"h":15.75,"v":20000,"s":1},{"h":15.8,"v":28000,"s":1},{"h":15.85,"v":15000,"s":1},{"h":15.9,"v":22000,"s":1},{"h":15.95,"v":30000,"s":1},{"h":16.0,"v":18000,"s":1},{"h":16.05,"v":25000,"s":1},{"h":16.1,"v":20000,"s":1},{"h":16.2,"v":30000,"s":1},{"h":16.3,"v":56000,"s":1},{"h":16.32,"v":11500,"s":1},{"h":16.45,"v":85000,"s":2},{"h":16.5,"v":70000,"s":2},{"h":16.55,"v":60000,"s":2},{"h":16.6,"v":75000,"s":2},{"h":16.66,"v":65000,"s":2},{"h":16.7,"v":40000,"s":2},{"h":16.75,"v":90000,"s":2},{"h":16.8,"v":17000,"s":2},{"h":16.85,"v":80000,"s":2},{"h":16.9,"v":160000,"s":2},{"h":16.95,"v":60000,"s":2},{"h":17.0,"v":11200,"s":2},{"h":17.05,"v":100000,"s":2},{"h":17.1,"v":250000,"s":2},{"h":17.15,"v":120000,"s":2},{"h":17.2,"v":80000,"s":2},{"h":17.25,"v":180000,"s":2},{"h":17.3,"v":100000,"s":2},{"h":17.35,"v":200000,"s":2},{"h":17.4,"v":70000,"s":2},{"h":17.45,"v":150000,"s":2},{"h":17.5,"v":110000,"s":2},{"h":17.55,"v":60000,"s":2},{"h":17.6,"v":250000,"s":2},{"h":17.65,"v":90000,"s":2},{"h":17.7,"v":150000,"s":2},{"h":17.75,"v":80000,"s":2},{"h":17.8,"v":280000,"s":2},{"h":17.85,"v":120000,"s":2},{"h":17.9,"v":60000,"s":2},{"h":17.95,"v":11200,"s":2},{"h":18.0,"v":100000,"s":2},{"h":18.05,"v":150000,"s":2},{"h":18.1,"v":280000,"s":2},{"h":18.15,"v":80000,"s":2},{"h":18.2,"v":120000,"s":2},{"h":18.25,"v":60000,"s":2},{"h":18.3,"v":140000,"s":2},{"h":18.35,"v":90000,"s":2},{"h":18.4,"v":200000,"s":2},{"h":18.45,"v":70000,"s":2},{"h":18.5,"v":130000,"s":2},{"h":18.55,"v":50000,"s":2},{"h":18.6,"v":110000,"s":2},{"h":18.65,"v":180000,"s":2},{"h":18.7,"v":80000,"s":2},{"h":18.75,"v":60000,"s":2},{"h":18.8,"v":140000,"s":2},{"h":18.85,"v":100000,"s":2},{"h":18.9,"v":70000,"s":2},{"h":18.95,"v":130000,"s":2},{"h":19.0,"v":220000,"s":2},{"h":19.05,"v":80000,"s":2},{"h":19.1,"v":120000,"s":2},{"h":19.15,"v":60000,"s":2},{"h":19.2,"v":100000,"s":2},{"h":19.25,"v":150000,"s":2},{"h":19.3,"v":70000,"s":2},{"h":19.35,"v":110000,"s":2},{"h":19.4,"v":50000,"s":2},{"h":19.45,"v":90000,"s":2},{"h":19.5,"v":130000,"s":2},{"h":19.55,"v":60000,"s":2},{"h":19.6,"v":17000,"s":2},{"h":19.65,"v":120000,"s":2},{"h":19.7,"v":360000,"s":2},{"h":19.75,"v":150000,"s":2},{"h":19.8,"v":90000,"s":2},{"h":19.85,"v":320000,"s":2},{"h":19.9,"v":110000,"s":2},{"h":19.95,"v":60000,"s":2},{"h":20.0,"v":130000,"s":2},{"h":20.05,"v":11200,"s":2},{"h":20.1,"v":90000,"s":2},{"h":20.15,"v":200000,"s":2},{"h":20.2,"v":80000,"s":2},{"h":20.25,"v":150000,"s":2},{"h":20.3,"v":60000,"s":2},{"h":20.35,"v":110000,"s":2},{"h":20.4,"v":180000,"s":2},{"h":20.45,"v":160000,"s":2},{"h":20.5,"v":70000,"s":2},{"h":20.55,"v":120000,"s":2},{"h":20.6,"v":50000,"s":2},{"h":20.65,"v":200000,"s":2},{"h":20.7,"v":90000,"s":2},{"h":20.75,"v":400000,"s":2},{"h":20.8,"v":130000,"s":2},{"h":20.85,"v":60000,"s":2},{"h":20.9,"v":17000,"s":2},{"h":20.95,"v":100000,"s":2},{"h":21.0,"v":70000,"s":2},{"h":21.05,"v":50000,"s":2},{"h":21.1,"v":60000,"s":2},{"h":21.15,"v":45000,"s":2},{"h":21.2,"v":70000,"s":2},{"h":21.25,"v":40000,"s":2},{"h":21.3,"v":55000,"s":2},{"h":21.35,"v":42000,"s":2},{"h":21.4,"v":60000,"s":2},{"h":21.45,"v":38000,"s":2},{"h":21.5,"v":50000,"s":2},{"h":21.6,"v":17000,"s":3},{"h":21.65,"v":130000,"s":3},{"h":21.7,"v":200000,"s":3},{"h":21.75,"v":80000,"s":3},{"h":21.8,"v":60000,"s":3},{"h":21.85,"v":120000,"s":3},{"h":21.9,"v":18000,"s":3},{"h":21.95,"v":90000,"s":3},{"h":22.0,"v":130000,"s":3},{"h":22.05,"v":160000,"s":3},{"h":22.1,"v":70000,"s":3},{"h":22.15,"v":110000,"s":3},{"h":22.2,"v":60000,"s":3},{"h":22.25,"v":130000,"s":3},{"h":22.3,"v":80000,"s":3},{"h":22.35,"v":100000,"s":3},{"h":22.4,"v":50000,"s":3},{"h":22.45,"v":120000,"s":3},{"h":22.5,"v":70000,"s":3},{"h":22.55,"v":110000,"s":3},{"h":22.6,"v":150000,"s":3},{"h":22.65,"v":80000,"s":3},{"h":22.7,"v":120000,"s":3},{"h":22.75,"v":60000,"s":3},{"h":22.8,"v":100000,"s":3},{"h":22.85,"v":90000,"s":3},{"h":22.9,"v":130000,"s":3},{"h":22.95,"v":70000,"s":3},{"h":23.0,"v":11200,"s":3},{"h":23.05,"v":90000,"s":3},{"h":23.1,"v":110000,"s":3},{"h":23.15,"v":70000,"s":3},{"h":23.2,"v":200000,"s":3},{"h":23.25,"v":100000,"s":3},{"h":23.3,"v":80000,"s":3},{"h":23.35,"v":110000,"s":3},{"h":23.4,"v":90000,"s":3},{"h":23.45,"v":70000,"s":3},{"h":23.5,"v":100000,"s":3},{"h":23.55,"v":12000,"s":3},{"h":23.6,"v":90000,"s":3},{"h":23.65,"v":80000,"s":3},{"h":23.7,"v":100000,"s":3},{"h":23.75,"v":70000,"s":3},{"h":23.8,"v":90000,"s":3},{"h":23.85,"v":110000,"s":3},{"h":23.9,"v":80000,"s":3},{"h":23.95,"v":140000,"s":3},{"h":24.0,"v":17000,"s":3},{"h":24.02,"v":11500,"s":3}]
},
"vconcat": [
  {
    "width": 561, "height": 83,
    "title": {"text": "2026 /\u00a0 6 / 29\u00a0\u00a0 01:00 --\u00a0 6 / 30\u00a0\u00a0 01:00 ( ACE )", "font": "DejaVu Sans", "fontSize": 11, "fontWeight": "normal", "color": "#000", "anchor": "middle", "frame": "group", "offset": -6},
    "layer": [
      {"data": {"values": [{}]}, "mark": {"type": "rule", "color": "#808080", "strokeWidth": 2}, "encoding": {"y": {"datum": 0, "type": "quantitative", "scale": {"domain": [-4, 4]}, "axis": null}}},
      {"data": {"name": "bt"}, "mark": {"type": "line", "color": "#000000", "strokeWidth": 1, "clip": true},
       "encoding": {"x": {"field": "h", "type": "quantitative", "scale": {"domain": [1, 25]}, "axis": {"orient": "bottom", "values": [2,4,6,8,10,12,14,16,18,20,22,24], "labels": false, "title": null}},
                    "y": {"field": "v", "type": "quantitative", "scale": {"domain": [-4, 4]}, "axis": {"orient": "left", "values": [-4,-2,0,2,4], "ticks": false, "labelPadding": 6, "title": "Bt,Bz", "titleAngle": 0, "titleAlign": "center", "titleBaseline": "middle", "titleX": -33, "titleY": 41.5}}}},
      {"data": {"name": "bz"}, "mark": {"type": "line", "color": "#ff0000", "strokeWidth": 1, "clip": true},
       "encoding": {"x": {"field": "h", "type": "quantitative", "scale": {"domain": [1, 25]}, "axis": {"orient": "top", "values": [2,4,6,8,10,12,14,16,18,20,22,24], "labels": false, "title": null}},
                    "y": {"field": "v", "type": "quantitative", "scale": {"domain": [-4, 4]}, "axis": {"orient": "right", "values": [-4,-2,0,2,4], "labels": false, "title": null}}}}
    ],
    "resolve": {"axis": {"x": "independent", "y": "independent"}}
  },
  {
    "width": 561, "height": 83,
    "layer": [
      {"data": {"name": "phi"}, "mark": {"type": "square", "size": 9, "filled": true, "opacity": 1, "clip": true},
       "encoding": {"x": {"field": "h", "type": "quantitative", "scale": {"domain": [1, 25]}, "axis": {"orient": "bottom", "values": [2,4,6,8,10,12,14,16,18,20,22,24], "labels": false, "title": null}},
                    "y": {"field": "v", "type": "quantitative", "scale": {"domain": [45, 405]}, "axis": {"orient": "left", "values": [45,135,225,315,405], "ticks": false, "labelPadding": 6, "title": ["T", "Phi", "A"], "titleLineHeight": 21.5, "titleAngle": 0, "titleAlign": "center", "titleBaseline": "middle", "titleX": -40, "titleY": 20}},
                    "color": {"field": "c", "type": "nominal", "scale": {"domain": ["b", "g", "m"], "range": ["#87cefa", "#c0c0c0", "#ff00ff"]}, "legend": null}}},
      {"data": {"values": [{}]}, "mark": {"type": "rule", "color": "#b46e6e", "strokeWidth": 2, "strokeDash": [10, 6]}, "encoding": {"y": {"datum": 225, "type": "quantitative", "scale": {"domain": [45, 405]}, "axis": null}}},
      {"data": {"name": "phi"}, "mark": {"type": "point", "opacity": 0},
       "encoding": {"x": {"field": "h", "type": "quantitative", "scale": {"domain": [1, 25]}, "axis": {"orient": "top", "values": [2,4,6,8,10,12,14,16,18,20,22,24], "labels": false, "title": null}},
                    "y": {"field": "v", "type": "quantitative", "scale": {"domain": [45, 405]}, "axis": {"orient": "right", "values": [45,135,225,315,405], "labels": false, "title": null}}}}
    ],
    "resolve": {"axis": {"x": "independent", "y": "independent"}}
  },
  {
    "width": 561, "height": 83,
    "layer": [
      {"data": {"name": "n"}, "mark": {"type": "line", "color": "#ff00ff", "strokeWidth": 1, "clip": true},
       "encoding": {"x": {"field": "h", "type": "quantitative", "scale": {"domain": [1, 25]}, "axis": {"orient": "bottom", "values": [2,4,6,8,10,12,14,16,18,20,22,24], "labels": false, "title": null}},
                    "y": {"field": "v", "type": "quantitative", "scale": {"type": "log", "domain": [0.1, 1]}, "axis": {"orient": "left", "values": [0.1,0.2,0.3,0.4,0.5,0.6,0.7,0.8,0.9,1], "labelExpr": "datum.value == 1 ? '1' : (datum.value == 0.1 ? '0.1' : '')", "tickColor": "#808080", "tickWidth": 2, "tickSize": -4, "labelPadding": 10, "title": "N", "titleAngle": 0, "titleAlign": "center", "titleBaseline": "middle", "titleX": -42, "titleY": 41.5}}}},
      {"data": {"name": "n"}, "mark": {"type": "line", "opacity": 0},
       "encoding": {"x": {"field": "h", "type": "quantitative", "scale": {"domain": [1, 25]}, "axis": {"orient": "top", "values": [2,4,6,8,10,12,14,16,18,20,22,24], "labels": false, "title": null}},
                    "y": {"field": "v", "type": "quantitative", "scale": {"type": "log", "domain": [0.1, 1]}, "axis": {"orient": "right", "values": [0.1, 1], "labels": false, "title": null}}}}
    ],
    "resolve": {"axis": {"x": "independent", "y": "independent"}}
  },
  {
    "width": 561, "height": 83,
    "layer": [
      {"data": {"name": "vel"}, "mark": {"type": "line", "color": "#0000ff", "strokeWidth": 1, "clip": true},
       "encoding": {"x": {"field": "h", "type": "quantitative", "scale": {"domain": [1, 25]}, "axis": {"orient": "bottom", "values": [2,4,6,8,10,12,14,16,18,20,22,24], "labels": false, "title": null}},
                    "y": {"field": "v", "type": "quantitative", "scale": {"domain": [300, 500]}, "axis": {"orient": "left", "values": [300,400,500], "ticks": false, "labelPadding": 6, "title": "V", "titleAngle": 0, "titleAlign": "center", "titleBaseline": "middle", "titleX": -43, "titleY": 41.5}},
                    "detail": {"field": "s", "type": "nominal"}}},
      {"data": {"name": "vel"}, "mark": {"type": "line", "opacity": 0},
       "encoding": {"x": {"field": "h", "type": "quantitative", "scale": {"domain": [1, 25]}, "axis": {"orient": "top", "values": [2,4,6,8,10,12,14,16,18,20,22,24], "labels": false, "title": null}},
                    "y": {"field": "v", "type": "quantitative", "scale": {"domain": [300, 500]}, "axis": {"orient": "right", "values": [300,400,500], "labels": false, "title": null}},
                    "detail": {"field": "s", "type": "nominal"}}}
    ],
    "resolve": {"axis": {"x": "independent", "y": "independent"}}
  },
  {
    "width": 561, "height": 83,
    "layer": [
      {"data": {"name": "temp"}, "mark": {"type": "line", "color": "#00ff00", "strokeWidth": 1, "clip": true},
       "encoding": {"x": {"field": "h", "type": "quantitative", "scale": {"domain": [1, 25]}, "axis": {"orient": "bottom", "values": [2,4,6,8,10,12,14,16,18,20,22,24], "labelExpr": "datum.value == 24 ? '0' : datum.label", "labelPadding": 9, "title": "UT", "titlePadding": 4}},
                    "y": {"field": "v", "type": "quantitative", "scale": {"type": "log", "domain": [10000, 1000000]}, "axis": {"orient": "left", "values": [10000,20000,30000,40000,50000,60000,70000,80000,90000,100000,200000,300000,400000,500000,600000,700000,800000,900000,1000000], "labelExpr": "datum.value == 10000 ? '1e+4' : (datum.value == 100000 ? '1e+5' : (datum.value == 1000000 ? '1e+6' : ''))", "tickColor": "#808080", "tickWidth": 2, "tickSize": -4, "labelPadding": 10, "title": "T", "titleAngle": 0, "titleAlign": "center", "titleBaseline": "middle", "titleX": -43, "titleY": 41.5}},
                    "detail": {"field": "s", "type": "nominal"}}},
      {"data": {"values": [{}]}, "mark": {"type": "rule", "color": "#b46e6e", "strokeWidth": 2, "strokeDash": [10, 6]}, "encoding": {"y": {"datum": 100000, "type": "quantitative", "scale": {"type": "log", "domain": [10000, 1000000]}, "axis": null}}},
      {"data": {"name": "temp"}, "mark": {"type": "line", "opacity": 0},
       "encoding": {"x": {"field": "h", "type": "quantitative", "scale": {"domain": [1, 25]}, "axis": {"orient": "top", "values": [2,4,6,8,10,12,14,16,18,20,22,24], "labels": false, "title": null}},
                    "y": {"field": "v", "type": "quantitative", "scale": {"type": "log", "domain": [10000, 1000000]}, "axis": {"orient": "right", "values": [10000, 100000, 1000000], "labels": false, "title": null}},
                    "detail": {"field": "s", "type": "nominal"}}}
    ],
    "resolve": {"axis": {"x": "independent", "y": "independent"}}
  }
]
}
